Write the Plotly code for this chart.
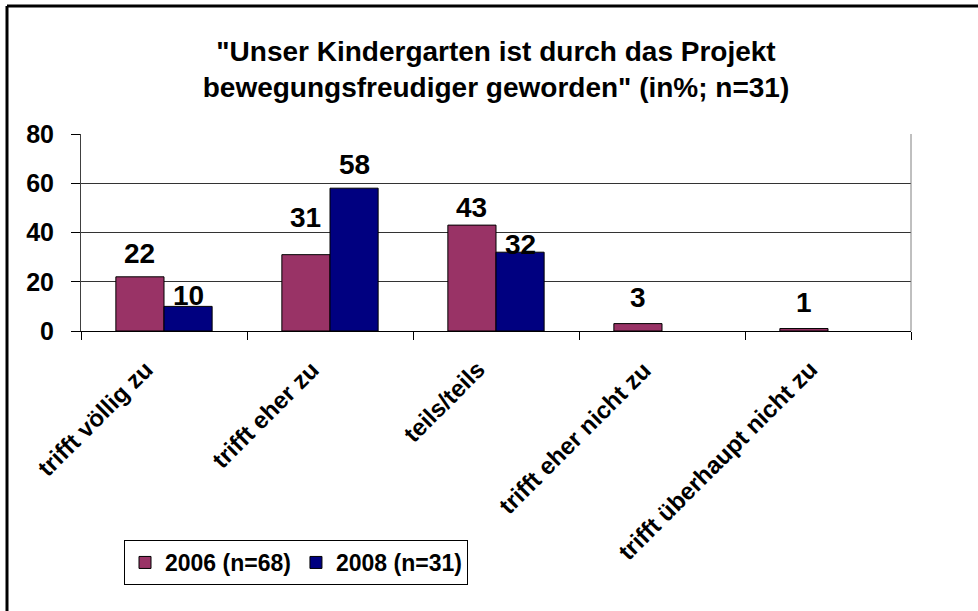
import plotly.graph_objects as go

# ---- data ----
categories = ["trifft völlig zu", "trifft eher zu", "teils/teils",
              "trifft eher nicht zu", "trifft überhaupt nicht zu"]
series_names = ["2006 (n=68)", "2008 (n=31)"]
values_2006 = [22, 31, 43, 3, 1]
values_2008 = [10, 58, 32, None, None]
y_ticks = [0, 20, 40, 60, 80]
title_text = '"Unser Kindergarten ist durch das Projekt<br>bewegungsfreudiger geworden" (in%; n=31)'

# ---- styling / layout (pixels) ----
W, H = 978, 611
PL, PR, PT, PB = 81, 911, 134, 331          # plot area edges
BARGAP = 0.42
colors = ["#993366", "#000080"]
FONT = "Arial, 'Liberation Sans', sans-serif"
# vertical offset (px) of each value label centre above its bar top
label_lift_2006 = [23, 37, 18, 26, 26]
label_lift_2008 = [11, 24, 8, 0, 0]

plot_w = PR - PL
plot_h = PB - PT
cat_px = plot_w / len(categories)
bar_offset = (1 - BARGAP) / 4 * cat_px


def px_to_paper_x(px):
    return (px - PL) / plot_w


def px_to_paper_y(py):
    return (PB - py) / plot_h


fig = go.Figure()
for name, vals, col in zip(series_names, [values_2006, values_2008], colors):
    fig.add_trace(go.Bar(
        x=categories, y=vals, name=name,
        marker=dict(color=col, line=dict(color="black", width=1)),
    ))

annotations = []
for vals, lifts, sign in [(values_2006, label_lift_2006, -1),
                          (values_2008, label_lift_2008, 1)]:
    for cat, v, lift in zip(categories, vals, lifts):
        if v is None:
            continue
        annotations.append(dict(
            x=cat, y=v, xref="x", yref="y", text=str(v), showarrow=False,
            xanchor="center", yanchor="middle",
            xshift=sign * bar_offset, yshift=lift,
            font=dict(family=FONT, size=28, color="black", weight="bold"),
        ))

# rotated category labels (top-right end placed below each category centre)
for i, cat in enumerate(categories):
    annotations.append(dict(
        x=i, y=0, xref="x", yref="paper", text=cat, showarrow=False,
        textangle=-45, xanchor="right", yanchor="top",
        xshift=-3, yshift=-22,
        font=dict(family=FONT, size=24, color="black", weight="bold"),
    ))

frame_left = px_to_paper_x(7)
frame_top = px_to_paper_y(6)
shapes = [
    # outer chart frame (left and top edges visible in the picture)
    dict(type="line", xref="paper", yref="paper",
         x0=frame_left, x1=frame_left, y0=px_to_paper_y(H + 5), y1=frame_top,
         line=dict(color="black", width=3)),
    dict(type="line", xref="paper", yref="paper",
         x0=frame_left, x1=px_to_paper_x(W + 5), y0=frame_top, y1=frame_top,
         line=dict(color="black", width=3)),
    # plot-area right border
    dict(type="line", xref="paper", yref="paper", x0=1, x1=1, y0=0, y1=1,
         line=dict(color="#808080", width=1)),
]

fig.update_layout(
    width=W, height=H,
    margin=dict(l=PL, r=W - PR, t=PT, b=H - PB),
    paper_bgcolor="white", plot_bgcolor="white",
    barmode="group", bargap=BARGAP, bargroupgap=0,
    title=dict(text=title_text, x=0.5, xref="paper", xanchor="center",
               y=1 - 61 / H, yref="container", yanchor="top",
               font=dict(family=FONT, size=28, color="black", weight="bold")),
    font=dict(family=FONT, color="black"),
    showlegend=True,
    legend=dict(orientation="h", x=px_to_paper_x(124), y=px_to_paper_y(540),
                xanchor="left", yanchor="top",
                bgcolor="white", bordercolor="black", borderwidth=1,
                font=dict(family=FONT, size=23, color="black", weight="bold"),
                traceorder="normal"),
    annotations=annotations,
    shapes=shapes,
)

fig.update_xaxes(
    type="category", categoryorder="array", categoryarray=categories,
    range=[-0.5, len(categories) - 0.5], autorange=False,
    tickson="boundaries", showticklabels=False,
    ticks="outside", ticklen=8, tickcolor="black", tickwidth=1,
    showline=True, linecolor="black", linewidth=1, showgrid=False,
)
fig.update_yaxes(
    range=[0, 80], tickvals=y_ticks, ticks="outside", ticklen=9,
    tickcolor="black", tickwidth=1,
    showline=True, linecolor="#404040", linewidth=1,
    showgrid=True, gridcolor="#333333", gridwidth=1, zeroline=False,
    ticklabelstandoff=12,
    tickfont=dict(family=FONT, size=25, color="black", weight="bold"),
)

fig.write_html("out.html",
               config={"displayModeBar": False},
               post_script="document.body.style.margin='0px';"
                           "document.body.style.overflow='hidden';"
                           "document.documentElement.style.overflow='hidden';")
